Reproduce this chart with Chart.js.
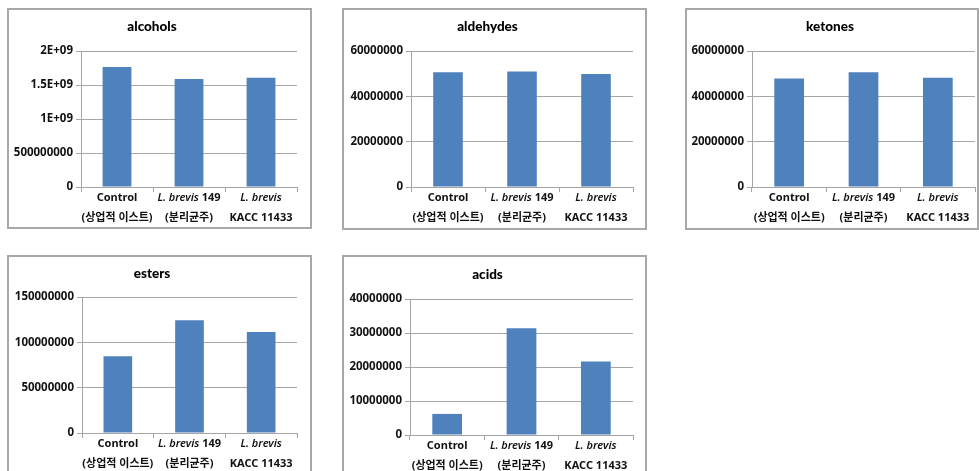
<!DOCTYPE html>
<html>
<head>
<meta charset="utf-8">
<script src="https://cdn.jsdelivr.net/npm/chart.js@4.4.1/dist/chart.umd.min.js"></script>
<style>
  html, body { margin: 0; padding: 0; background: #fff; width: 979px; height: 471px; overflow: hidden; position: relative; }
  .frame { position: absolute; border: 2px solid #a8a8a8; box-sizing: border-box; background: #fff; }
  canvas { position: absolute; }
</style>
</head>
<body>
<script>
// Sample groups on the x axis (two text lines each)
const categories = [
  ['Control', '(상업적 이스트)'],
  ['L. brevis 149', '(분리균주)'],
  ['L. brevis', 'KACC 11433']
];
const italicName = 'L. brevis';

// Peak areas per compound class
const alcohols  = [1765000000, 1588000000, 1607000000];
const aldehydes = [50600000, 51000000, 49850000];
const ketones   = [47900000, 50600000, 48200000];
const esters    = [84600000, 124300000, 111400000];
const acids     = [6200000, 31400000, 21600000];

// Y tick labels in spreadsheet "general" format
const alcoholTicks  = ['0', '500000000', '1E+09', '1.5E+09', '2E+09'];
const aldehydeTicks = ['0', '20000000', '40000000', '60000000'];
const ketoneTicks   = ['0', '20000000', '40000000', '60000000'];
const esterTicks    = ['0', '50000000', '100000000', '150000000'];
const acidTicks     = ['0', '10000000', '20000000', '30000000', '40000000'];

const BAR = '#4f81bd';
const GRID = '#a6a6a6';
const TEXT = '#111';
const FAMILY = "'Noto Sans', 'Noto Sans CJK KR', sans-serif";

// Panel frames and plot areas (page pixels)
const panels = [
  { title: 'alcohols',  values: alcohols,  ticks: alcoholTicks,  step: 500000000, box: [7, 8, 305, 221],   plot: [81, 51, 297, 187],  titleY: 26.7 },
  { title: 'aldehydes', values: aldehydes, ticks: aldehydeTicks, step: 20000000,  box: [342, 8, 305, 222],  plot: [411, 51, 633, 187], titleY: 26.7 },
  { title: 'ketones',   values: ketones,   ticks: ketoneTicks,   step: 20000000,  box: [685, 8, 294, 222],  plot: [752, 51, 975, 187], titleY: 26.7 },
  { title: 'esters',    values: esters,    ticks: esterTicks,    step: 50000000,  box: [7, 255, 305, 232],  plot: [82, 297, 297, 433], titleY: 273.3 },
  { title: 'acids',     values: acids,     ticks: acidTicks,     step: 10000000,  box: [342, 255, 305, 232], plot: [410, 299, 633, 435], titleY: 275 }
];

// Draws the two-line category captions under each bar slot
const categoryLabels = {
  id: 'categoryLabels',
  afterDraw(chart) {
    const ctx = chart.ctx, xs = chart.scales.x, area = chart.chartArea;
    ctx.save();
    ctx.fillStyle = TEXT;
    ctx.textBaseline = 'middle';
    ctx.textAlign = 'left';
    categories.forEach((lines, i) => {
      const cx = xs.getPixelForValue(i);
      lines.forEach((line, j) => {
        const y = area.bottom + (j === 0 ? 10.5 : 31);
        const size = /[\uAC00-\uD7A3]/.test(line) ? 11 : 11;
        const segs = line.startsWith(italicName)
          ? [[italicName, 'italic 600 '], [line.slice(italicName.length), 'bold ']]
          : [[line, 'bold ']];
        const parts = segs.filter(s => s[0].length).map(([t, style]) => {
          const font = style + size + 'px ' + FAMILY;
          ctx.font = font;
          return { t, font, w: ctx.measureText(t).width };
        });
        const total = parts.reduce((a, p) => a + p.w, 0);
        let x = cx - total / 2;
        parts.forEach(p => { ctx.font = p.font; ctx.fillText(p.t, x, y); x += p.w; });
      });
    });
    ctx.restore();
  }
};

panels.forEach(p => {
  const [bx, by, bw, bh] = p.box;
  const [pl, pt, pr, pb] = p.plot;

  const frame = document.createElement('div');
  frame.className = 'frame';
  Object.assign(frame.style, { left: bx + 'px', top: by + 'px', width: bw + 'px', height: bh + 'px' });
  document.body.appendChild(frame);

  const canvas = document.createElement('canvas');
  canvas.width = bw; canvas.height = bh;
  Object.assign(canvas.style, { left: bx + 'px', top: by + 'px', width: bw + 'px', height: bh + 'px' });
  document.body.appendChild(canvas);

  const titleSize = 13.5, titleLine = titleSize * 1.2;
  const padTop = (p.titleY - by) - titleLine / 2;
  const padBottom = (pt - by) - padTop - titleLine;
  const yMax = p.step * (p.ticks.length - 1);

  new Chart(canvas, {
    type: 'bar',
    data: {
      labels: categories.map(c => c.join(' ')),
      datasets: [{ data: p.values, backgroundColor: BAR, borderWidth: 0, categoryPercentage: 1, barPercentage: 0.4 }]
    },
    options: {
      responsive: false,
      animation: false,
      devicePixelRatio: 1,
      layout: { padding: { left: 0, top: 0, bottom: 0, right: bx + bw - pr } },
      plugins: {
        legend: { display: false },
        tooltip: { enabled: false },
        title: {
          display: true,
          text: p.title,
          color: '#000',
          font: { family: 'Lato, sans-serif', size: titleSize, weight: 900, lineHeight: 1.2 },
          padding: { top: padTop, bottom: padBottom }
        }
      },
      scales: {
        x: {
          grid: { display: true, drawOnChartArea: false, drawTicks: true, tickLength: 5, color: GRID, offset: true },
          border: { display: true, color: GRID, width: 1 },
          ticks: { display: false },
          afterFit: s => { s.height = by + bh - pb; }
        },
        y: {
          min: 0,
          max: yMax,
          grid: { color: GRID, lineWidth: 1, drawTicks: true, tickLength: 5 },
          border: { display: true, color: GRID, width: 1 },
          ticks: {
            stepSize: p.step,
            padding: 3,
            color: TEXT,
            font: { family: FAMILY, size: 11.5, weight: 'bold' },
            callback: (v, i) => p.ticks[i]
          },
          afterFit: s => { s.width = pl - bx; }
        }
      }
    },
    plugins: [categoryLabels]
  });
});
</script>
</body>
</html>
